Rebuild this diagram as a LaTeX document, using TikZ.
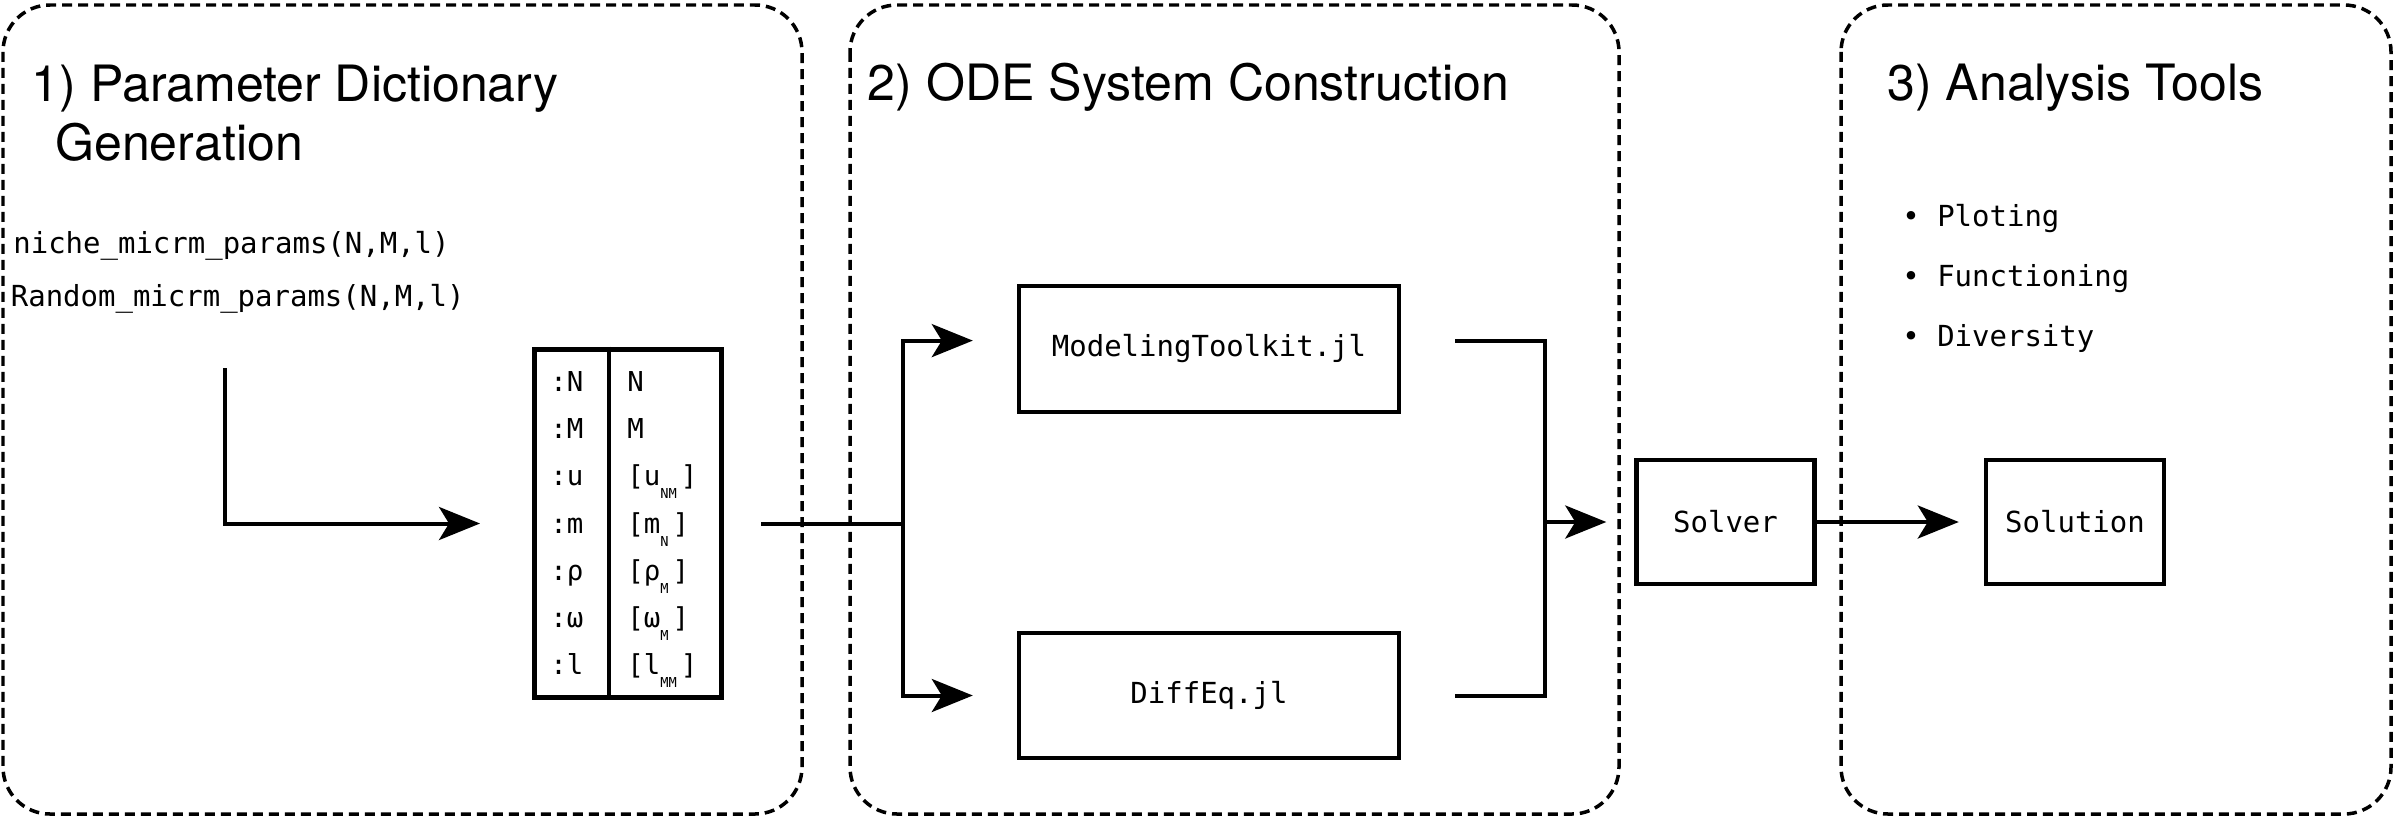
\documentclass[tikz,border=0pt]{standalone}
\usepackage{fontspec}
\setmainfont{TeX Gyre Heros}
\newfontfamily\codefont{DejaVu Sans Mono}
\usetikzlibrary{arrows.meta,calc}
\newcommand{\low}[1]{\raisebox{-0.26cm}{\fontsize{7.8}{8}\selectfont #1}\hspace{0.08cm}}

\begin{document}
\begin{tikzpicture}[x=0.02cm, y=-0.02cm,
    stage/.style={draw, line width=0.07cm, dash pattern=on 0.2cm off 0.12cm, rounded corners=0.94cm},
    heading/.style={anchor=base west, inner sep=0, font=\fontsize{28.5}{33}\selectfont},
    code/.style={anchor=base west, inner sep=0, font=\codefont\fontsize{16.5}{20}\selectfont},
    cell/.style={anchor=base west, inner sep=0, font=\codefont\fontsize{15.6}{18}\selectfont},
    box/.style={draw, line width=0.09cm, inner sep=0, font=\codefont\fontsize{16.5}{20}\selectfont},
    plain/.style={line width=0.08cm},
    conn/.style={plain, -{Stealth[length=0.82cm, width=0.66cm, inset=0.2cm]}}]
    \useasboundingbox (0,0) rectangle (2395,818);
    % the three stages
    \draw[stage] (3,5) rectangle (802,814);
    \draw[stage] (850,5) rectangle (1619,814);
    \draw[stage] (1841,5) rectangle (2391,814);
    \node[heading] (title1) at (31.5,101) {1) Parameter Dictionary};
    \node[heading] (title1b) at (55,160.5) {Generation};
    \node[heading] (title2) at (867.5,100.7) {2) ODE System Construction};
    \node[heading] (title3) at (1887,100.7) {3) Analysis Tools};
    % stage 1
    \node[code] (niche) at (13,253) {niche\_micrm\_params(N,M,l)};
    \node[code] (random) at (10.5,306.7) {Random\_micrm\_params(N,M,l)};
    \node[draw, line width=0.1cm, minimum width=3.75cm, minimum height=6.98cm, inner sep=0] (dict) at (628.25,523.5) {};
    \draw[line width=0.09cm] ($(dict.north west)!0.4!(dict.north east)$) -- ($(dict.south west)!0.4!(dict.south east)$);
    \foreach \k/\v [count=\i] in {N/N, M/M, u/{[u\low{NM}]}, m/{[m\low{N}]}, ρ/{[ρ\low{M}]}, ω/{[ω\low{M}]}, l/{[l\low{MM}]}} {
        \node[cell] (key\i) at (550,344.3+47.2*\i) {:\k};
        \node[cell] (val\i) at (627,344.3+47.2*\i) {\v};
    }
    \coordinate (start) at (225,368);
    \draw[conn, shorten >=1.04cm] (start) |- (dict.west);
    % stage 2
    \node[box, minimum width=7.6cm, minimum height=2.52cm] (mtk) at (1209,349) {ModelingToolkit.jl};
    \node[box, minimum width=7.6cm, minimum height=2.5cm] (diffeq) at (1209,695.5) {DiffEq.jl};
    \coordinate (split) at (903,523.5);
    \coordinate (merge) at (1545,522);
    \draw[plain] (dict.east) ++(37,0) -- (split);
    \draw[conn] (split) |- ([xshift=-0.88cm, yshift=0.168cm]mtk.west);
    \draw[conn] (split) |- ([xshift=-0.88cm]diffeq.west);
    \draw[plain] ([xshift=1.08cm, yshift=0.168cm]mtk.east) -| (merge) |- ([xshift=1.08cm]diffeq.east);
    % stage 3
    \node[box, minimum width=3.56cm, minimum height=2.48cm] (solver) at (1725.5,522) {Solver};
    \node[box, minimum width=3.56cm, minimum height=2.48cm] (solution) at (2075,522) {Solution};
    \draw[conn, shorten >=0.56cm] (merge) -- (solver.west);
    \draw[conn, shorten >=0.5cm] (solver.east) -- (solution.west);
    \foreach \t [count=\i] in {Ploting, Functioning, Diversity} {
        \node[code] (item\i) at (1902,166+60*\i) {• \t};
    }
\end{tikzpicture}
\end{document}
